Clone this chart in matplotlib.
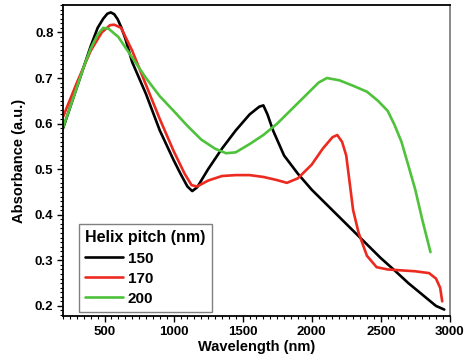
import matplotlib
matplotlib.use("Agg")
import matplotlib.pyplot as plt
from matplotlib.ticker import MultipleLocator

plt.rcParams['font.family'] = ['Liberation Sans', 'DejaVu Sans']
plt.rcParams['font.weight'] = 'bold'

# Data
x150 = [200, 300, 400, 450, 490, 520, 545, 570, 595, 620, 650, 700, 800, 900, 1000, 1050, 1100,
        1135, 1170, 1250, 1350, 1450, 1550, 1620, 1650, 1680, 1720, 1800, 1900, 2000, 2100,
        2200, 2300, 2400, 2500, 2600, 2700, 2800, 2900, 2960]
y150 = [0.59, 0.68, 0.77, 0.81, 0.83, 0.841, 0.844, 0.84, 0.829, 0.812, 0.787, 0.735, 0.665,
        0.585, 0.52, 0.49, 0.462, 0.452, 0.46, 0.50, 0.545, 0.585, 0.62, 0.637, 0.64, 0.62,
        0.585, 0.53, 0.49, 0.455, 0.425, 0.395, 0.365, 0.335, 0.305, 0.278, 0.25, 0.225, 0.20,
        0.192]

x170 = [200, 300, 400, 480, 540, 570, 620, 700, 800, 900, 1000, 1080, 1130, 1170, 1250, 1350,
        1450, 1550, 1650, 1750, 1820, 1900, 2000, 2080, 2150, 2185, 2220, 2250, 2275, 2300,
        2340, 2400, 2470, 2550, 2650, 2750, 2850, 2900, 2930, 2945]
y170 = [0.615, 0.69, 0.76, 0.80, 0.816, 0.817, 0.81, 0.76, 0.685, 0.61, 0.54, 0.49, 0.465,
        0.462, 0.475, 0.485, 0.487, 0.487, 0.483, 0.476, 0.47, 0.48, 0.51, 0.545, 0.57, 0.575,
        0.56, 0.53, 0.47, 0.41, 0.36, 0.31, 0.285, 0.28, 0.278, 0.276, 0.272, 0.26, 0.24, 0.21]

x200 = [200, 250, 300, 350, 400, 450, 490, 530, 600, 700, 800, 900, 1000, 1100, 1200, 1300,
        1380, 1450, 1550, 1650, 1750, 1850, 1950, 2050, 2110, 2200, 2300, 2400, 2480, 2550,
        2600, 2650, 2700, 2750, 2800, 2860]
y200 = [0.592, 0.635, 0.68, 0.725, 0.765, 0.795, 0.81, 0.808, 0.79, 0.745, 0.70, 0.66, 0.628,
        0.595, 0.565, 0.545, 0.535, 0.537, 0.555, 0.575, 0.60, 0.63, 0.66, 0.69, 0.70, 0.695,
        0.683, 0.67, 0.65, 0.628, 0.597, 0.56, 0.508, 0.455, 0.39, 0.318]

series_labels = ['150', '170', '200']
colors = ['#000000', '#ec2a1f', '#4ec23a']
legend_title = 'Helix pitch (nm)'
xlabel = 'Wavelength (nm)'
ylabel = 'Absorbance (a.u.)'

fig = plt.figure(figsize=(4.71, 3.64), dpi=100)
ax = fig.add_axes([0.134, 0.132, 0.821, 0.854])

for xs, ys, lab, c in zip([x150, x170, x200], [y150, y170, y200], series_labels, colors):
    ax.plot(xs, ys, color=c, lw=1.9, label=lab, solid_capstyle='round', solid_joinstyle='round')

ax.set_xlim(200, 3000)
ax.set_ylim(0.178, 0.86)
ax.xaxis.set_major_locator(MultipleLocator(500))
ax.xaxis.set_minor_locator(MultipleLocator(50))
ax.yaxis.set_major_locator(MultipleLocator(0.1))
ax.yaxis.set_minor_locator(MultipleLocator(0.01))
ax.tick_params(which='major', direction='out', length=4, width=1, labelsize=9.5, pad=3)
ax.tick_params(which='minor', direction='out', length=2.5, width=0.8)
ax.tick_params(top=False, right=False)
for lbl in ax.get_xticklabels() + ax.get_yticklabels():
    lbl.set_fontweight('bold')

for s in ['left', 'bottom', 'top']:
    ax.spines[s].set_linewidth(1.3)
    ax.spines[s].set_color('black')
ax.spines['right'].set_color('#808080')
ax.spines['right'].set_linewidth(1.3)

ax.set_xlabel(xlabel, fontsize=10.5, fontweight='bold', labelpad=2)
ax.set_ylabel(ylabel, fontsize=10.5, fontweight='bold', labelpad=6)

leg = ax.legend(loc='lower left', bbox_to_anchor=(0.041, 0.013), borderaxespad=0,
                title=legend_title,
                fontsize=11, title_fontproperties={'weight': 'bold', 'size': 11.5},
                alignment='left', fancybox=False, edgecolor='#808080', framealpha=1,
                handlelength=2.5, handletextpad=0.3, labelspacing=0.4, borderpad=0.4)
leg.get_frame().set_linewidth(1.0)
for t in leg.get_texts():
    t.set_fontweight('bold')

fig.savefig('out.png', dpi=100)
